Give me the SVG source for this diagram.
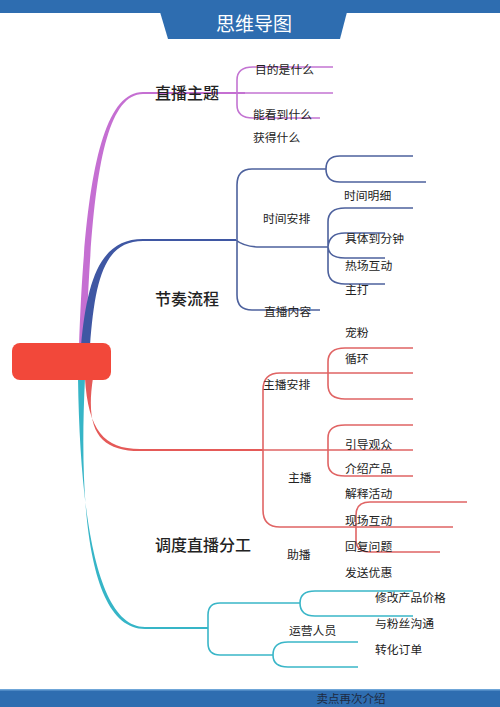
<svg xmlns="http://www.w3.org/2000/svg" width="500" height="707" viewBox="0 0 500 707">
<style>
text{font-family:"Noto Sans CJK SC","Noto Sans",sans-serif;fill:#222}
.main{font-size:16px;font-weight:500}
.lab{font-size:11.8px}
.p{fill:none;stroke:#c374d2;stroke-width:1.6}
.b{fill:none;stroke:#4d619d;stroke-width:1.6}
.r{fill:none;stroke:#e06464;stroke-width:1.6}
.t{fill:none;stroke:#3ab6c8;stroke-width:1.6}
</style>
<rect width="500" height="707" fill="#fff"/>
<g id="header">
<rect x="0" y="0" width="500" height="13" fill="#2e6db0"/>
<polygon points="160,12 347,12 340,39 168,39" fill="#2e6db0"/>
<text x="254" y="31" text-anchor="middle" style="font-size:19px;fill:#fff">思维导图</text>
</g>
<g id="footer">
<rect x="0" y="689" width="500" height="18" fill="#2e6db0"/>
<rect x="0" y="689" width="500" height="1.5" fill="#6fa6d8"/>
<text x="351" y="703" text-anchor="middle" style="font-size:11.5px;fill:#1e2a40">卖点再次介绍</text>
</g>
<g id="connectors">
<path d="M79,346 C84,200 98,92 143,92 L245,92 L245,94 L143,94 C101,94 91,200 86,346 Z" fill="#c56fd2"/>
<path d="M81,346 C87,280 100,239 143,239 L236,239 L236,241 L143,241 C104,241 95,280 90,346 Z" fill="#3f57a3"/>
<path d="M85,378 C88,430 104,449 140,449 L263,449 L263,451 L140,451 C99,451 85,430 93,378 Z" fill="#e55a58"/>
<path d="M78,378 C80,520 98,627 145,627 L208,627 L208,629 L145,629 C92,629 78,520 85,378 Z" fill="#36b5c7"/>
<path class="p" d="M253,67 Q237,67 237,80 L237,105 Q237,118 253,118 H320 M253,67 H333 M237,93 H333"/>
<path class="b" d="M252,169 Q237,169 237,185 L237,295 Q237,310 252,310 H320 M252,169 H326 M340,156 Q326,156 326,169 Q326,182 340,182 H426 M340,156 H413 M236,240 Q244,247 260,247 H328 M345,208 Q328,208 328,222 L328,270 Q328,284 345,284 H385 M345,208 H413 M328,247 Q329,233 345,233 H385 M328,247 Q329,258 345,258 H385"/>
<path class="r" d="M280,373 Q263,373 263,390 L263,510 Q263,527 280,527 H453 M280,373 H413 M345,348 Q328,348 328,362 L328,385 Q328,399 345,399 H413 M345,348 H413 M263,450 H413 M345,425 Q328,425 328,438 L328,463 Q328,476 345,476 H413 M345,425 H413 M370,502 Q356,502 356,515 L356,540 Q356,552 370,552 H440 M370,502 H467"/>
<path class="t" d="M220,603 Q208,603 208,615 L208,643 Q208,655 220,655 H273 M220,603 H300 M315,591 Q300,591 300,603 Q300,616 315,616 H413 M315,591 H413 M288,642 Q273,642 273,655 Q273,667 288,667 H358 M288,642 H358"/>
</g>
<g id="center"><rect x="12" y="343" width="99" height="37" rx="8" fill="#f2483a"/></g>
<g id="n-zhibozhuti"><text class="main" x="155" y="99">直播主题</text></g>
<g id="n-mudi"><text class="lab" x="255" y="74">目的是什么</text></g>
<g id="n-nengkan"><text class="lab" x="253" y="119">能看到什么</text></g>
<g id="n-huode"><text class="lab" x="253" y="142">获得什么</text></g>
<g id="n-jiezou"><text class="main" x="155" y="305">节奏流程</text></g>
<g id="n-shijiananpai"><text class="lab" x="263" y="223">时间安排</text></g>
<g id="n-shijianmingxi"><text class="lab" x="344" y="200">时间明细</text></g>
<g id="n-juti"><text class="lab" x="345" y="243">具体到分钟</text></g>
<g id="n-rechang"><text class="lab" x="345" y="270">热场互动</text></g>
<g id="n-zhuda"><text class="lab" x="345" y="294">主打</text></g>
<g id="n-neirong"><text class="lab" x="264" y="316">直播内容</text></g>
<g id="n-chongfen"><text class="lab" x="345" y="337">宠粉</text></g>
<g id="n-xunhuan"><text class="lab" x="345" y="363">循环</text></g>
<g id="n-zhuboanpai"><text class="lab" x="263" y="389">主播安排</text></g>
<g id="n-yindao"><text class="lab" x="345" y="449">引导观众</text></g>
<g id="n-jieshao"><text class="lab" x="345" y="473">介绍产品</text></g>
<g id="n-zhubo"><text class="lab" x="288" y="482">主播</text></g>
<g id="n-jieshi"><text class="lab" x="345" y="498">解释活动</text></g>
<g id="n-xianchang"><text class="lab" x="345" y="525">现场互动</text></g>
<g id="n-huifu"><text class="lab" x="345" y="551">回复问题</text></g>
<g id="n-zhubo2"><text class="lab" x="287" y="559">助播</text></g>
<g id="n-fasong"><text class="lab" x="345" y="577">发送优惠</text></g>
<g id="n-diaodu"><text class="main" x="155" y="551">调度直播分工</text></g>
<g id="n-xiugai"><text class="lab" x="375" y="602">修改产品价格</text></g>
<g id="n-goutong"><text class="lab" x="375" y="628">与粉丝沟通</text></g>
<g id="n-yunying"><text class="lab" x="289" y="635">运营人员</text></g>
<g id="n-zhuanhua"><text class="lab" x="375" y="654">转化订单</text></g>
</svg>
